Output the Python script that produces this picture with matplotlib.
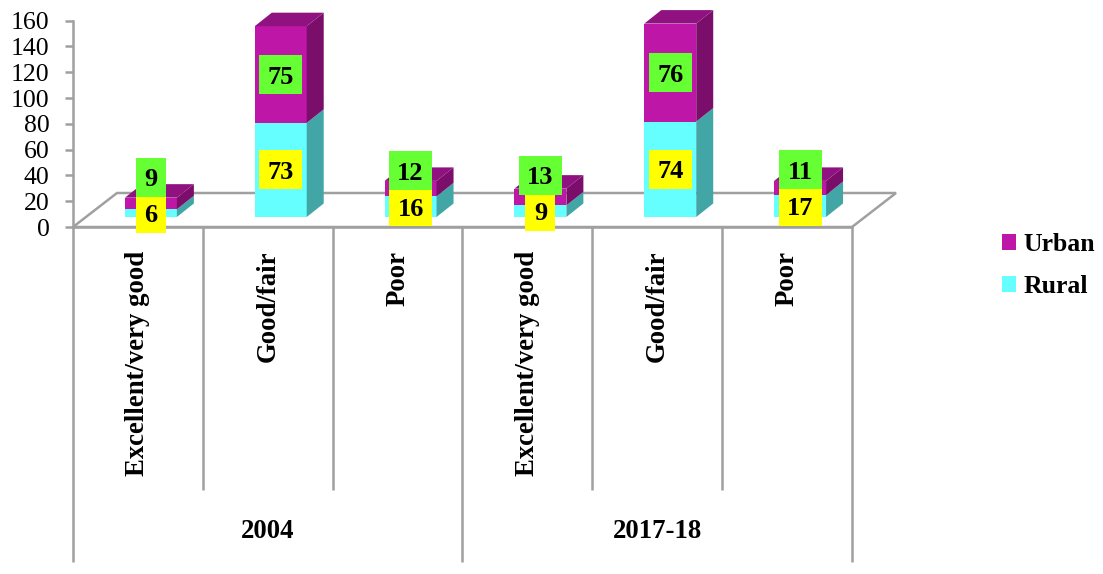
import numpy as np
import matplotlib.pyplot as plt
from matplotlib.patches import Polygon, Rectangle, Patch
from matplotlib.transforms import ScaledTranslation

# data
groups = ['2004', '2017-18']
categories = ['Excellent/very good', 'Good/fair', 'Poor']
rural = [6, 73, 16, 9, 74, 17]
urban = [9, 75, 12, 13, 76, 11]
series_names = ['Urban', 'Rural']

# colours
c_rural, c_rural_side = '#66FFFF', '#43A6A6'
c_urban, c_urban_side, c_urban_top = '#BE16A6', '#7A0E6A', '#8F1280'
c_grid = '#A0A0A0'
c_lab_rural, c_lab_urban = '#FFFF00', '#66FF33'

plt.rcParams['font.family'] = ['Liberation Serif', 'DejaVu Serif']

W, H = 1103, 574
fig = plt.figure(figsize=(W / 100, H / 100), dpi=100)


def px_rect(x0, y0, x1, y1):
    """pixel box (top-left origin) -> figure fraction rect"""
    return [x0 / W, 1 - y1 / H, (x1 - x0) / W, (y1 - y0) / H]


ax = fig.add_axes(px_rect(73, 20.7, 852, 227))
ax.patch.set_visible(False)
for s in ('top', 'right'):
    ax.spines[s].set_visible(False)
for s in ('left', 'bottom'):
    ax.spines[s].set_color(c_grid)
    ax.spines[s].set_linewidth(1.8)
ax.set_xticks([])
ax.set_yticks(range(0, 161, 20))
ax.tick_params(axis='y', length=6, width=1.8, color=c_grid, pad=11, labelsize=18.5)

# pixel -> data unit factors
ux = 6 / 779
uy = 160 / 206.3

# floor
fdx, fdy = 44 * ux, 34 * uy
floor = Polygon([(0, 0), (6, 0), (6 + fdx, fdy), (fdx, fdy)], closed=True,
                fc='white', ec=c_grid, lw=1.8, clip_on=False, zorder=1)
ax.add_patch(floor)

# bars sit a bit behind the front edge of the floor
bar_tr = ax.transData + ScaledTranslation(13 / 100, 10 / 100, fig.dpi_scale_trans)
x = np.arange(len(rural)) + 0.5
width = 0.4
ddx, ddy = 17 * ux, 13.5 * uy

rb = ax.bar(x, rural, width, color=c_rural, lw=0, transform=bar_tr, clip_on=False, zorder=3)
ub = ax.bar(x, urban, width, bottom=rural, color=c_urban, lw=0, transform=bar_tr,
            clip_on=False, zorder=3)

for xi, r, u in zip(x, rural, urban):
    x0, x1 = xi - width / 2, xi + width / 2
    for y0, y1, cs in ((0, r, c_rural_side), (r, r + u, c_urban_side)):
        side = Polygon([(x1, y0), (x1 + ddx, y0 + ddy), (x1 + ddx, y1 + ddy), (x1, y1)],
                       closed=True, fc=cs, lw=0, transform=bar_tr, clip_on=False, zorder=3)
        ax.add_patch(side)
    top = r + u
    ax.add_patch(Polygon([(x0, top), (x1, top), (x1 + ddx, top + ddy), (x0 + ddx, top + ddy)],
                         closed=True, fc=c_urban_top, lw=0, transform=bar_tr,
                         clip_on=False, zorder=3))


def value_label(xc, yc, text, fc):
    tr = fig.dpi_scale_trans + ScaledTranslation(xc, yc, bar_tr)
    w = 0.43 if len(text) > 1 else 0.30
    ax.add_patch(Rectangle((-w / 2, -0.195), w, 0.39, transform=tr, fc=fc, lw=0,
                           clip_on=False, zorder=5))
    ax.text(0, -0.09, text, transform=tr, ha='center', va='baseline', fontsize=19,
            fontweight='bold', zorder=6)


for xi, r, u in zip(x, rural, urban):
    ry = r / 2
    uyl = max(r + u / 2, ry + 28)
    value_label(xi, ry, str(r), c_lab_rural)
    value_label(xi, uyl, str(u), c_lab_urban)

ax.set_xlim(0, 6)
ax.set_ylim(0, 160)

# category axis below the floor
cax = fig.add_axes(px_rect(73, 227, 852, 562))
cax.set_xlim(0, 6)
cax.set_ylim(1, 0)
cax.axis('off')
inner = (490 - 227) / 335
for k in range(7):
    yb = 1 if k % 3 == 0 else inner
    cax.plot([k, k], [0, yb], color=c_grid, lw=1.8, clip_on=False, solid_capstyle='butt')
for g, grp in enumerate(groups):
    for c, cat in enumerate(categories):
        cax.text(g * 3 + c + 0.5, (251 - 227) / 335, cat, rotation=90, ha='center',
                 va='top', fontsize=19.3, fontweight='bold')
    cax.text(g * 3 + 1.5, (531 - 227) / 335, grp, ha='center', va='center',
             fontsize=19.3, fontweight='bold')

fig.legend(handles=[Patch(fc=c_urban), Patch(fc=c_rural)], labels=series_names,
           loc='center left', bbox_to_anchor=(1002 / W, 1 - 265.5 / H), frameon=False,
           prop=dict(family='Liberation Serif', weight='bold', size=18.5),
           handlelength=0.55, handleheight=0.55, handletextpad=0.3, labelspacing=0.75,
           borderpad=0, borderaxespad=0)

fig.savefig('out.png', dpi=100)
